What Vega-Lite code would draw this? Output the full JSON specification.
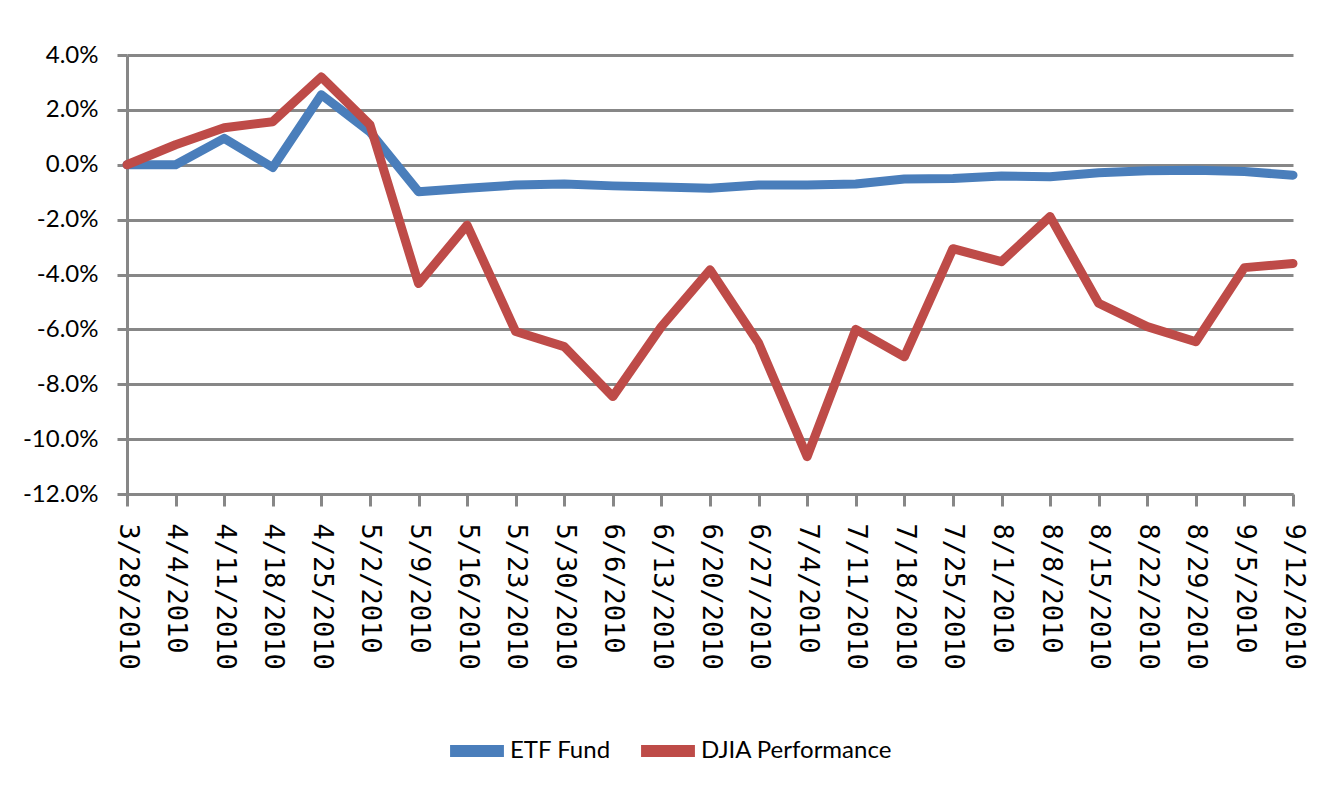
{
  "$schema": "https://vega.github.io/schema/vega-lite/v6.json",
  "width": 1166,
  "height": 439,
  "autosize": {"type": "none"},
  "padding": {"left": 127, "top": 55, "right": 26, "bottom": 311},
  "background": "white",
  "config": {"view": {"stroke": null}},
  "data": {"values": [
    {"date": "3/28/2010", "series": "ETF Fund", "value": 0},
    {"date": "4/4/2010", "series": "ETF Fund", "value": 0},
    {"date": "4/11/2010", "series": "ETF Fund", "value": 0.0096},
    {"date": "4/18/2010", "series": "ETF Fund", "value": -0.001},
    {"date": "4/25/2010", "series": "ETF Fund", "value": 0.0255},
    {"date": "5/2/2010", "series": "ETF Fund", "value": 0.012},
    {"date": "5/9/2010", "series": "ETF Fund", "value": -0.0098},
    {"date": "5/16/2010", "series": "ETF Fund", "value": -0.0086},
    {"date": "5/23/2010", "series": "ETF Fund", "value": -0.0074},
    {"date": "5/30/2010", "series": "ETF Fund", "value": -0.007},
    {"date": "6/6/2010", "series": "ETF Fund", "value": -0.0077},
    {"date": "6/13/2010", "series": "ETF Fund", "value": -0.0081},
    {"date": "6/20/2010", "series": "ETF Fund", "value": -0.0086},
    {"date": "6/27/2010", "series": "ETF Fund", "value": -0.0074},
    {"date": "7/4/2010", "series": "ETF Fund", "value": -0.0074},
    {"date": "7/11/2010", "series": "ETF Fund", "value": -0.007},
    {"date": "7/18/2010", "series": "ETF Fund", "value": -0.0052},
    {"date": "7/25/2010", "series": "ETF Fund", "value": -0.005},
    {"date": "8/1/2010", "series": "ETF Fund", "value": -0.0041},
    {"date": "8/8/2010", "series": "ETF Fund", "value": -0.0044},
    {"date": "8/15/2010", "series": "ETF Fund", "value": -0.0029},
    {"date": "8/22/2010", "series": "ETF Fund", "value": -0.0022},
    {"date": "8/29/2010", "series": "ETF Fund", "value": -0.002},
    {"date": "9/5/2010", "series": "ETF Fund", "value": -0.0025},
    {"date": "9/12/2010", "series": "ETF Fund", "value": -0.0038},
    {"date": "3/28/2010", "series": "DJIA Performance", "value": 0},
    {"date": "4/4/2010", "series": "DJIA Performance", "value": 0.0073},
    {"date": "4/11/2010", "series": "DJIA Performance", "value": 0.0135},
    {"date": "4/18/2010", "series": "DJIA Performance", "value": 0.0157},
    {"date": "4/25/2010", "series": "DJIA Performance", "value": 0.032},
    {"date": "5/2/2010", "series": "DJIA Performance", "value": 0.0146},
    {"date": "5/9/2010", "series": "DJIA Performance", "value": -0.0433},
    {"date": "5/16/2010", "series": "DJIA Performance", "value": -0.022},
    {"date": "5/23/2010", "series": "DJIA Performance", "value": -0.0608},
    {"date": "5/30/2010", "series": "DJIA Performance", "value": -0.0663},
    {"date": "6/6/2010", "series": "DJIA Performance", "value": -0.0845},
    {"date": "6/13/2010", "series": "DJIA Performance", "value": -0.059},
    {"date": "6/20/2010", "series": "DJIA Performance", "value": -0.0383},
    {"date": "6/27/2010", "series": "DJIA Performance", "value": -0.065},
    {"date": "7/4/2010", "series": "DJIA Performance", "value": -0.1064},
    {"date": "7/11/2010", "series": "DJIA Performance", "value": -0.06},
    {"date": "7/18/2010", "series": "DJIA Performance", "value": -0.07},
    {"date": "7/25/2010", "series": "DJIA Performance", "value": -0.0306},
    {"date": "8/1/2010", "series": "DJIA Performance", "value": -0.0353},
    {"date": "8/8/2010", "series": "DJIA Performance", "value": -0.0189},
    {"date": "8/15/2010", "series": "DJIA Performance", "value": -0.0505},
    {"date": "8/22/2010", "series": "DJIA Performance", "value": -0.059},
    {"date": "8/29/2010", "series": "DJIA Performance", "value": -0.0645},
    {"date": "9/5/2010", "series": "DJIA Performance", "value": -0.0375},
    {"date": "9/12/2010", "series": "DJIA Performance", "value": -0.036}
  ]},
  "mark": {"type": "line", "strokeWidth": 9, "strokeJoin": "round", "strokeCap": "round"},
  "encoding": {
    "x": {
      "field": "date",
      "type": "ordinal",
      "sort": null,
      "scale": {"type": "point", "padding": 0},
      "axis": {
        "title": null,
        "labelAngle": 90,
        "labelFont": "DejaVu Sans Mono",
        "labelFontSize": 27,
        "labelColor": "black",
        "labelPadding": 17,
        "tickSize": 12,
        "tickColor": "#878787",
        "tickWidth": 3,
        "domainColor": "#878787",
        "domainWidth": 3,
        "grid": false
      }
    },
    "y": {
      "field": "value",
      "type": "quantitative",
      "scale": {"domain": [-0.12, 0.04], "nice": false, "zero": false},
      "axis": {
        "title": null,
        "values": [-0.12, -0.1, -0.08, -0.06, -0.04, -0.02, 0, 0.02, 0.04],
        "format": ".1%",
        "labelExpr": "replace(datum.label, '\u2212', '-')",
        "labelFont": "Lato",
        "labelFontSize": 24,
        "labelColor": "black",
        "labelPadding": 19,
        "tickSize": 10,
        "tickColor": "#878787",
        "tickWidth": 3,
        "domainColor": "#878787",
        "domainWidth": 3,
        "grid": true,
        "gridColor": "#878787",
        "gridWidth": 3,
        "gridOpacity": 1
      }
    },
    "color": {
      "field": "series",
      "type": "nominal",
      "sort": ["ETF Fund", "DJIA Performance"],
      "scale": {"domain": ["ETF Fund", "DJIA Performance"], "range": ["#4A7EBB", "#BE4B48"]},
      "legend": {
        "title": null,
        "orient": "none",
        "legendX": 317,
        "legendY": 663,
        "direction": "horizontal",
        "symbolType": "stroke",
        "symbolStrokeWidth": 12,
        "symbolSize": 2900,
        "labelFont": "Lato",
        "labelFontSize": 24,
        "labelColor": "black",
        "labelOffset": 0,
        "labelLimit": 0,
        "columnPadding": 6
      }
    }
  }
}
